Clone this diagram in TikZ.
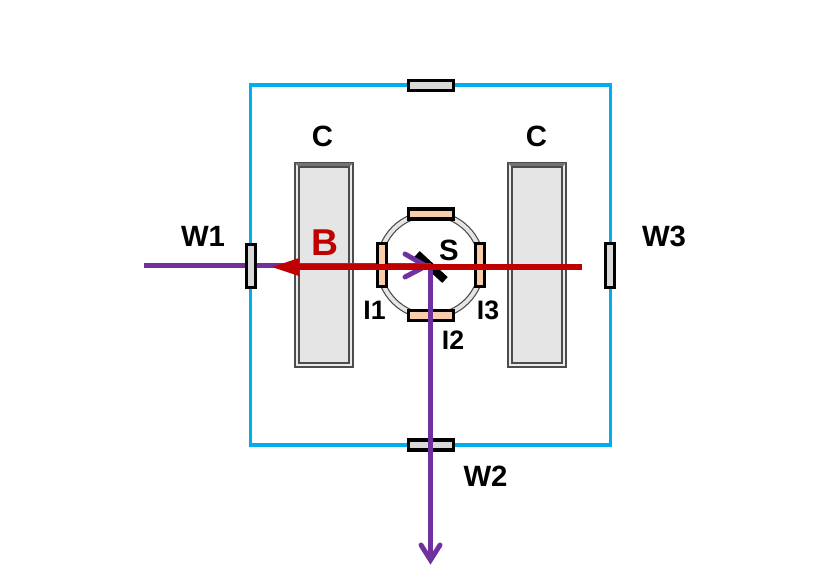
\documentclass[tikz,border=0pt]{standalone}
\usepackage{fontspec}
\setmainfont{Liberation Sans}
\definecolor{framecol}{RGB}{0,174,239}
\definecolor{beamred}{RGB}{192,0,0}
\definecolor{beampurple}{RGB}{112,48,160}
\definecolor{peach}{RGB}{250,205,170}
\definecolor{wingray}{RGB}{217,217,217}
\definecolor{coilgray}{RGB}{229,229,229}
\tikzset{
  px/.style={x=0.75pt,y=-0.75pt},
  lab/.style={font=\bfseries\fontsize{22}{24}\selectfont,text=black,inner sep=0pt},
  smalllab/.style={font=\bfseries\fontsize{20}{22}\selectfont,text=black,inner sep=0pt},
  winbox/.style={draw=black,line width=2.4pt,fill=wingray,inner sep=0pt,rectangle},
  portbox/.style={draw=black,line width=2.4pt,fill=peach,inner sep=0pt,rectangle},
  hwin/.style={minimum width=33.7pt,minimum height=7.5pt},
  vwin/.style={minimum width=6.6pt,minimum height=32.5pt},
  coilbox/.style={draw=black!70,line width=1.1pt,fill=white!92!black,inner sep=0pt,minimum width=43.5pt,minimum height=152.5pt,rectangle},
  coilin/.style={draw=black!70,line width=1.1pt,fill=coilgray,inner sep=0pt,minimum width=36.5pt,minimum height=146pt,rectangle},
  framewire/.style={draw=framecol,line width=2.4pt},
  purpleray/.style={draw=beampurple,line width=3.7pt},
  redray/.style={draw=beamred,line width=4pt},
}
\begin{document}
\begin{tikzpicture}[px]
\useasboundingbox (0,0) rectangle (830,586);
% outer chamber
\node[framewire,minimum width=270.5pt,minimum height=270pt,inner sep=0pt] (chamber) at (430.5,265) {};
% coils
\node[coilbox] (coilL) at (324,265) {};
\node[coilin] (coilLi) at (coilL) {};
\fill[black!55] (coilL.north west) -- (coilL.north east) -- (coilLi.north east) -- (coilLi.north west) -- cycle;
\draw[black!70,line width=1.1pt] (coilL.north west) rectangle (coilL.south east);
\draw[black!70,line width=1.1pt] (coilLi.north west) rectangle (coilLi.south east);
\node[coilbox] (coilR) at (537,265) {};
\node[coilin] (coilRi) at (coilR) {};
\fill[black!55] (coilR.north west) -- (coilR.north east) -- (coilRi.north east) -- (coilRi.north west) -- cycle;
\draw[black!70,line width=1.1pt] (coilR.north west) rectangle (coilR.south east);
\draw[black!70,line width=1.1pt] (coilRi.north west) rectangle (coilRi.south east);
% sphere
\node[circle,draw=black!70,line width=0.8pt,fill=coilgray,minimum size=81pt,inner sep=0pt] (sphereO) at (430.5,265) {};
\node[circle,draw=black!70,line width=0.8pt,fill=white,minimum size=73pt,inner sep=0pt] (sphereI) at (sphereO) {};
% mirror
\coordinate (m1) at (417,254);
\coordinate (m2) at (445,280);
\draw[black,line width=6pt] (m1) -- (m2);
% named anchors
\coordinate (purpleStart) at (144,265.5);
\coordinate (junction) at (430.5,265.5);
\coordinate (purpleEnd) at (430.5,560);
\coordinate (redStart) at (582,267);
\coordinate (redEnd) at (272,267);
\coordinate (chevA) at (405,254);
\coordinate (chevB) at (405,277);
\coordinate (chevTip) at (426,266);
% purple horizontal ray, beneath windows
\draw[purpleray] (purpleStart) -- (junction);
% windows
\node[winbox,hwin] (wTop) at (431,85.5) {};
\node[winbox,vwin] (W1) at (251,266) {};
\node[winbox,vwin] (W3) at (610,265.5) {};
\node[winbox,hwin] (W2) at (431,445) {};
% ports
\node[portbox,hwin] (pTop) at (431,214) {};
\node[portbox,hwin] (I2) at (431,315.5) {};
\node[portbox,vwin] (I1) at (382,265) {};
\node[portbox,vwin] (I3) at (480,265) {};
% purple output ray and arrowheads
\draw[purpleray] (junction) -- (purpleEnd);
\draw[purpleray,line cap=round,line join=miter] (421,545) -- (purpleEnd) -- (440,545);
\draw[purpleray,line cap=round] (chevA) -- (chevTip) -- (chevB);
% red ray
\draw[redray] (redStart) -- (290,267);
\fill[beamred] (redEnd) -- (299,258) -- (299,276) -- cycle;
% labels
\node[lab] (lC1) at (322.5,136.5) {C};
\node[lab] (lC2) at (536.5,136.5) {C};
\node[lab] (lW1) at (203,236.5) {W1};
\node[lab] (lW3) at (664,236.5) {W3};
\node[lab] (lW2) at (485.5,476.5) {W2};
\node[lab,text=beamred,font=\bfseries\fontsize{28}{30}\selectfont] (lB) at (325,242.5) {B};
\node[lab] (lS) at (449,250) {S};
\node[smalllab] (lI1) at (374.5,310) {I1};
\node[smalllab] (lI3) at (488,310) {I3};
\node[smalllab] (lI2) at (453,340) {I2};
\end{tikzpicture}
\end{document}
